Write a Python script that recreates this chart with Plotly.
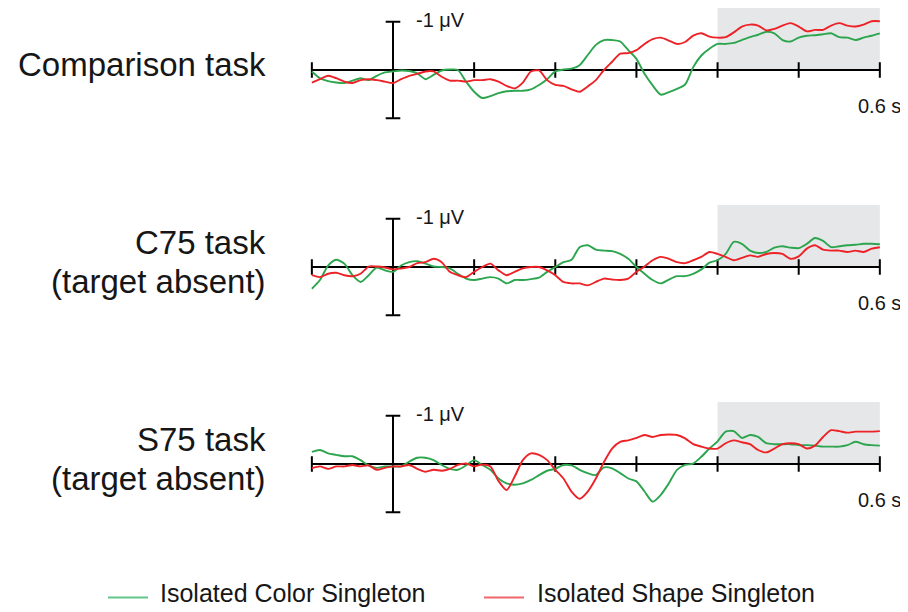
import plotly.graph_objects as go

# ---------------- data ----------------
TIME_S = [-0.10, -0.09, -0.08, -0.07, -0.06, -0.05, -0.04, -0.03, -0.02, -0.01,
          0.00, 0.01, 0.02, 0.03, 0.04, 0.05, 0.06, 0.07, 0.08, 0.09,
          0.10, 0.11, 0.12, 0.13, 0.14, 0.15, 0.16, 0.17, 0.18, 0.19,
          0.20, 0.21, 0.22, 0.23, 0.24, 0.25, 0.26, 0.27, 0.28, 0.29,
          0.30, 0.31, 0.32, 0.33, 0.34, 0.35, 0.36, 0.37, 0.38, 0.39,
          0.40, 0.41, 0.42, 0.43, 0.44, 0.45, 0.46, 0.47, 0.48, 0.49,
          0.50, 0.51, 0.52, 0.53, 0.54, 0.55, 0.56, 0.57, 0.58, 0.59, 0.60]

PANEL_TITLES = [["Comparison task"],
                ["C75 task", "(target absent)"],
                ["S75 task", "(target absent)"]]
SERIES_NAMES = ["Isolated Color Singleton", "Isolated Shape Singleton"]
TICK_TIMES = [-0.1, 0.0, 0.1, 0.2, 0.3, 0.4, 0.5, 0.6]
SCALE_LABEL = "-1 μV"
TIME_LABEL = "0.6 s"

# amplitudes in microvolts (negative plotted upward)
comparison_color = [0.03, 0.17, 0.23, 0.26, 0.27, 0.22, 0.17, 0.21, 0.12, 0.05,
                    0.03, 0.01, 0.02, 0.07, 0.19, 0.10, 0.01, -0.01, 0.00, 0.24,
                    0.45, 0.58, 0.54, 0.48, 0.44, 0.43, 0.43, 0.40, 0.31, 0.19,
                    0.03, -0.01, -0.03, -0.10, -0.31, -0.52, -0.62, -0.62, -0.59, -0.41,
                    -0.23, 0.08, 0.32, 0.51, 0.46, 0.39, 0.30, -0.06, -0.30, -0.44,
                    -0.54, -0.54, -0.56, -0.62, -0.68, -0.73, -0.79, -0.76, -0.62, -0.59,
                    -0.67, -0.71, -0.72, -0.74, -0.76, -0.68, -0.67, -0.62, -0.67, -0.71, -0.76]
comparison_shape = [0.26, 0.19, 0.12, 0.17, 0.24, 0.27, 0.21, 0.19, 0.21, 0.24,
                    0.27, 0.19, 0.12, 0.08, 0.03, 0.03, 0.14, 0.22, 0.22, 0.24,
                    0.21, 0.21, 0.19, 0.24, 0.33, 0.38, 0.26, 0.03, 0.01, 0.21,
                    0.31, 0.33, 0.40, 0.45, 0.34, 0.21, 0.00, -0.17, -0.34, -0.35,
                    -0.41, -0.54, -0.64, -0.67, -0.61, -0.54, -0.58, -0.71, -0.76, -0.69,
                    -0.67, -0.68, -0.78, -0.90, -0.94, -0.92, -0.82, -0.85, -0.92, -0.97,
                    -0.90, -0.80, -0.83, -0.83, -0.92, -0.97, -0.92, -0.90, -0.94, -1.01, -1.01]

c75_color = [0.45, 0.27, -0.03, -0.15, -0.07, 0.17, 0.31, 0.17, 0.01, 0.07,
             0.10, -0.03, -0.10, -0.12, -0.07, -0.01, 0.00, 0.03, 0.14, 0.24,
             0.27, 0.24, 0.21, 0.24, 0.34, 0.27, 0.27, 0.25, 0.22, 0.10,
             0.00, -0.10, -0.15, -0.41, -0.45, -0.36, -0.34, -0.33, -0.27, -0.17,
             0.00, 0.14, 0.27, 0.34, 0.26, 0.19, 0.19, 0.14, 0.05, -0.09,
             -0.14, -0.27, -0.52, -0.48, -0.34, -0.29, -0.31, -0.40, -0.43, -0.40,
             -0.39, -0.48, -0.60, -0.54, -0.41, -0.43, -0.45, -0.46, -0.48, -0.48, -0.47]
c75_shape = [0.17, 0.21, 0.14, 0.12, 0.17, 0.19, 0.14, -0.01, -0.01, 0.01,
             0.05, 0.03, 0.00, -0.08, -0.10, -0.17, -0.10, 0.10, 0.17, 0.21,
             0.10, 0.00, -0.07, 0.07, 0.17, 0.10, 0.03, 0.00, 0.00, 0.07,
             0.17, 0.31, 0.34, 0.34, 0.38, 0.31, 0.24, 0.26, 0.27, 0.24,
             0.10, -0.01, -0.14, -0.21, -0.17, -0.10, -0.08, -0.14, -0.21, -0.31,
             -0.27, -0.21, -0.14, -0.19, -0.24, -0.21, -0.27, -0.29, -0.27, -0.17,
             -0.22, -0.38, -0.45, -0.36, -0.34, -0.34, -0.31, -0.34, -0.31, -0.38, -0.41]

s75_color = [-0.25, -0.29, -0.22, -0.19, -0.16, -0.16, -0.08, 0.03, 0.08, 0.05,
             0.05, 0.05, -0.05, -0.13, -0.13, -0.08, 0.02, 0.10, 0.12, 0.03,
             -0.08, 0.02, 0.12, 0.30, 0.40, 0.43, 0.40, 0.33, 0.23, 0.14,
             0.10, 0.02, 0.03, 0.12, 0.19, 0.23, 0.07, 0.09, 0.19, 0.30,
             0.36, 0.57, 0.78, 0.64, 0.40, 0.12, 0.02, -0.01, -0.15, -0.32,
             -0.47, -0.67, -0.68, -0.54, -0.60, -0.56, -0.43, -0.41, -0.41, -0.41,
             -0.39, -0.39, -0.38, -0.36, -0.36, -0.36, -0.39, -0.46, -0.41, -0.39, -0.38]
s75_shape = [0.09, 0.05, 0.10, 0.05, 0.05, 0.02, 0.05, 0.03, 0.12, 0.08,
             0.05, 0.05, 0.02, 0.10, 0.16, 0.12, 0.14, 0.10, 0.02, -0.01,
             0.05, 0.01, 0.05, 0.35, 0.54, 0.26, -0.08, -0.22, -0.19, -0.08,
             0.12, 0.30, 0.57, 0.72, 0.57, 0.30, -0.04, -0.32, -0.46, -0.49,
             -0.54, -0.60, -0.56, -0.60, -0.61, -0.60, -0.53, -0.41, -0.36, -0.32,
             -0.32, -0.43, -0.49, -0.45, -0.41, -0.29, -0.24, -0.32, -0.41, -0.43,
             -0.41, -0.32, -0.38, -0.56, -0.70, -0.68, -0.65, -0.67, -0.67, -0.67, -0.68]

PANELS = [(comparison_color, comparison_shape),
          (c75_color, c75_shape),
          (s75_color, s75_shape)]

# ---------------- layout constants (window pixels) ----------------
BODY_MARGIN = 8                 # default page margin before the plot div
W, H = 908 - BODY_MARGIN, 612 - BODY_MARGIN
PX_PER_S = 811.4
PX_PER_UV = 48.3
ZERO_X_PX = 393
AXIS_Y_PX = [70, 267, 464]
TOP_PX, BOT_PX = 62, 60         # extent of each panel's y domain above / below its axis
X_RANGE = [-0.12, 0.62]
GREEN = "#2ca54e"
RED = "#ec2227"
FONT = "Liberation Sans, Arial, Helvetica, sans-serif"
TXT = "#161616"


def px_x(px):
    return (px - BODY_MARGIN) / W


def px_y(py):
    return 1 - (py - BODY_MARGIN) / H


x_dom = [px_x(ZERO_X_PX + X_RANGE[0] * PX_PER_S), px_x(ZERO_X_PX + X_RANGE[1] * PX_PER_S)]

fig = go.Figure()
shapes, annotations = [], []
layout_axes = {}

for i, (green_vals, red_vals) in enumerate(PANELS):
    ay = AXIS_Y_PX[i]
    yname = "y" if i == 0 else f"y{i + 1}"
    ykey = "yaxis" if i == 0 else f"yaxis{i + 1}"
    layout_axes[ykey] = dict(
        domain=[max(0, px_y(ay + BOT_PX)), min(1, px_y(ay - TOP_PX))],
        range=[BOT_PX / PX_PER_UV, -TOP_PX / PX_PER_UV], visible=False, fixedrange=True,
    )
    for vals, color, name in ((green_vals, GREEN, SERIES_NAMES[0]), (red_vals, RED, SERIES_NAMES[1])):
        fig.add_trace(go.Scatter(
            x=TIME_S, y=vals, mode="lines", name=name, legendgroup=name,
            showlegend=False, xaxis="x", yaxis=yname,
            line=dict(color=color, width=1.9, shape="spline", smoothing=0.7),
        ))
    # shaded window 0.4-0.6 s
    shapes.append(dict(type="rect", xref="x", yref=yname, x0=0.4, x1=0.6, y0=0, y1=-1.3,
                       fillcolor="#e6e7e8", line=dict(width=0), layer="below"))
    # time axis
    shapes.append(dict(type="line", xref="x", yref=yname, x0=TICK_TIMES[0], x1=TICK_TIMES[-1],
                       y0=0, y1=0, line=dict(color="black", width=2), layer="below"))
    for t in TICK_TIMES:
        shapes.append(dict(type="line", xref="x", yref=yname, x0=t, x1=t, y0=-0.16, y1=0.16,
                           line=dict(color="black", width=2), layer="below"))
    # voltage axis
    shapes.append(dict(type="line", xref="x", yref=yname, x0=0, x1=0, y0=-1, y1=1,
                       line=dict(color="black", width=2), layer="below"))
    for v in (-1, 1):
        shapes.append(dict(type="line", xref="x", yref=yname, x0=-0.009, x1=0.009, y0=v, y1=v,
                           line=dict(color="black", width=2), layer="below"))
    annotations.append(dict(text=SCALE_LABEL, xref="x", yref=yname, x=0.026, y=-1.04,
                            xanchor="left", yanchor="middle", showarrow=False,
                            font=dict(size=20, color=TXT, family=FONT)))
    annotations.append(dict(text=TIME_LABEL, xref="paper", yref="paper", x=px_x(903), y=px_y(ay + 36),
                            xanchor="right", yanchor="middle", showarrow=False,
                            font=dict(size=20, color=TXT, family=FONT)))
    lines = PANEL_TITLES[i]
    centers = [ay - 6] if len(lines) == 1 else [ay - 25, ay + 14]
    for txt, cy in zip(lines, centers):
        annotations.append(dict(text=txt, xref="paper", yref="paper", x=px_x(268), y=px_y(cy),
                                xanchor="right", yanchor="middle", showarrow=False,
                                font=dict(size=33, color=TXT, family=FONT)))

# legend (drawn as sample lines + labels)
LEGEND_ITEMS = [(SERIES_NAMES[0], "#62c68a", 108, 148, 158),
                (SERIES_NAMES[1], "#f0666a", 484, 524, 535)]
for name, color, lx0, lx1, tx in LEGEND_ITEMS:
    shapes.append(dict(type="line", xref="paper", yref="paper", x0=px_x(lx0), x1=px_x(lx1),
                       y0=px_y(597.5), y1=px_y(597.5), line=dict(color=color, width=2.2)))
    annotations.append(dict(text=name, xref="paper", yref="paper", x=px_x(tx), y=px_y(593),
                            xanchor="left", yanchor="middle", showarrow=False,
                            font=dict(size=25, color=TXT, family=FONT)))

fig.update_layout(
    width=W, height=H,
    margin=dict(l=0, r=0, t=0, b=0),
    paper_bgcolor="white", plot_bgcolor="rgba(0,0,0,0)",
    xaxis=dict(domain=x_dom, range=X_RANGE, visible=False, fixedrange=True),
    shapes=shapes, annotations=annotations,
    showlegend=False,
    **layout_axes,
)

fig.write_html("out.html")
